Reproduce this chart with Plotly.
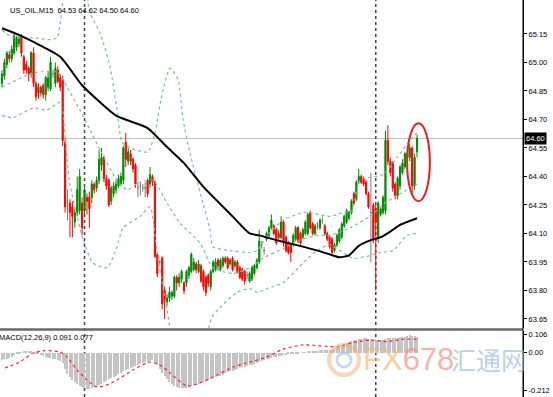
import plotly.graph_objects as go

# ---------------- data ----------------
opens = [64.89, 64.93, 64.99, 65.04, 65.02, 65.05, 65.08, 65.10, 65.14, 65.03,
         64.99, 64.97, 64.94, 65.05, 64.89, 64.87, 64.84, 64.88, 64.83, 64.87,
         64.86, 64.94, 64.89, 64.96, 64.92, 64.91, 64.58, 64.26, 64.26, 64.24,
         64.16, 64.21, 64.22, 64.26, 64.22, 64.29, 64.29, 64.29, 64.36, 64.34,
         64.38, 64.46, 64.50, 64.39, 64.38, 64.27, 64.31, 64.33, 64.35, 64.36,
         64.38, 64.58, 64.48, 64.52, 64.49, 64.46, 64.34, 64.35, 64.34, 64.34,
         64.38, 64.36, 64.40, 64.37, 63.99, 63.95, 63.97, 63.80, 63.74, 63.76,
         63.77, 63.77, 63.87, 63.84, 63.86, 63.84, 63.84, 63.88, 63.90, 63.91,
         63.94, 63.90, 63.93, 63.90, 63.87, 63.88, 63.82, 63.90, 63.91, 63.96,
         63.91, 63.93, 63.97, 63.97, 63.94, 63.97, 63.93, 63.95, 63.92, 63.91,
         63.90, 63.88, 63.85, 63.86, 63.89, 63.92, 63.95, 64.04, 64.01, 64.07,
         64.09, 64.13, 64.14, 64.12, 64.10, 64.08, 64.16, 64.08, 64.05, 64.04,
         64.04, 64.07, 64.13, 64.10, 64.08, 64.10, 64.10, 64.21, 64.15, 64.10,
         64.14, 64.13, 64.17, 64.14, 64.10, 64.08, 64.07, 64.01, 64.04, 64.06,
         64.08, 64.14, 64.16, 64.18, 64.21, 64.31, 64.28, 64.37, 64.40, 64.39,
         64.37, 64.31, 64.21, 64.25, 64.23, 64.08, 64.20, 64.21, 64.22, 64.59,
         64.48, 64.47, 64.36, 64.30, 64.35, 64.42, 64.45, 64.50, 64.50, 64.55,
         64.35, 64.53]
highs = [64.96, 65.02, 65.06, 65.06, 65.09, 65.16, 65.14, 65.15, 65.15, 65.04,
         65.01, 64.98, 65.06, 65.08, 64.90, 64.89, 64.88, 64.89, 64.93, 64.95,
         65.03, 64.96, 65.00, 64.98, 64.94, 64.93, 64.60, 64.33, 64.28, 64.27,
         64.23, 64.40, 64.44, 64.29, 64.36, 64.31, 64.32, 64.38, 64.37, 64.40,
         64.54, 64.55, 64.51, 64.41, 64.39, 64.35, 64.37, 64.38, 64.41, 64.42,
         64.56, 64.63, 64.55, 64.54, 64.50, 64.47, 64.37, 64.37, 64.36, 64.37,
         64.39, 64.45, 64.41, 64.38, 64.00, 63.96, 63.98, 63.82, 63.78, 63.82,
         63.80, 63.88, 63.88, 63.89, 63.91, 63.85, 63.91, 63.93, 64.00, 63.97,
         63.95, 63.96, 63.94, 63.91, 63.88, 63.89, 63.91, 63.96, 63.97, 63.97,
         63.97, 63.98, 63.98, 63.98, 63.97, 63.98, 63.96, 63.96, 63.93, 63.92,
         63.91, 63.90, 63.90, 63.93, 63.94, 63.97, 64.12, 64.06, 64.03, 64.11,
         64.14, 64.20, 64.15, 64.13, 64.12, 64.19, 64.17, 64.09, 64.06, 64.05,
         64.10, 64.14, 64.14, 64.11, 64.13, 64.17, 64.21, 64.22, 64.16, 64.15,
         64.16, 64.18, 64.19, 64.15, 64.11, 64.09, 64.08, 64.05, 64.10, 64.13,
         64.16, 64.20, 64.23, 64.22, 64.28, 64.32, 64.38, 64.44, 64.41, 64.40,
         64.38, 64.32, 64.42, 64.26, 64.25, 64.27, 64.24, 64.30, 64.64, 64.67,
         64.50, 64.48, 64.37, 64.40, 64.46, 64.49, 64.53, 64.55, 64.57, 64.56,
         64.52, 64.62]
lows = [64.87, 64.91, 64.97, 65.00, 65.00, 65.04, 65.06, 65.08, 65.03, 64.94,
        64.94, 64.90, 64.92, 64.87, 64.80, 64.81, 64.82, 64.81, 64.80, 64.85,
        64.85, 64.92, 64.87, 64.89, 64.85, 64.56, 64.21, 64.17, 64.08, 64.08,
        64.13, 64.19, 64.20, 64.09, 64.20, 64.20, 64.13, 64.26, 64.31, 64.32,
        64.36, 64.43, 64.37, 64.33, 64.24, 64.25, 64.29, 64.31, 64.34, 64.35,
        64.36, 64.45, 64.46, 64.46, 64.42, 64.34, 64.29, 64.30, 64.32, 64.29,
        64.29, 64.34, 64.35, 63.97, 63.87, 63.94, 63.70, 63.65, 63.72, 63.74,
        63.75, 63.76, 63.80, 63.82, 63.84, 63.78, 63.82, 63.86, 63.89, 63.90,
        63.89, 63.89, 63.84, 63.80, 63.77, 63.82, 63.80, 63.89, 63.90, 63.91,
        63.90, 63.92, 63.94, 63.91, 63.93, 63.90, 63.92, 63.89, 63.86, 63.85,
        63.83, 63.86, 63.84, 63.85, 63.88, 63.91, 63.94, 64.02, 63.99, 64.06,
        64.08, 64.12, 64.09, 64.04, 64.07, 64.07, 64.03, 64.00, 63.99, 63.95,
        64.03, 64.06, 64.05, 64.04, 64.07, 64.09, 64.09, 64.12, 64.09, 64.09,
        64.12, 64.12, 64.15, 64.09, 64.06, 64.02, 63.99, 64.00, 64.03, 64.05,
        64.07, 64.13, 64.15, 64.17, 64.20, 64.25, 64.27, 64.36, 64.36, 64.35,
        64.30, 64.23, 63.95, 64.05, 63.80, 64.05, 64.19, 64.20, 64.20, 64.46,
        64.40, 64.32, 64.28, 64.28, 64.33, 64.41, 64.44, 64.49, 64.48, 64.30,
        64.33, 64.50]
closes = [64.94, 65.00, 65.05, 65.02, 65.07, 65.14, 65.13, 65.13, 65.05, 64.96,
          64.96, 64.94, 65.05, 64.89, 64.82, 64.84, 64.87, 64.83, 64.92, 64.92,
          65.00, 64.94, 64.97, 64.90, 64.87, 64.59, 64.24, 64.26, 64.21, 64.19,
          64.21, 64.33, 64.40, 64.13, 64.33, 64.27, 64.23, 64.36, 64.33, 64.38,
          64.49, 64.50, 64.39, 64.35, 64.25, 64.34, 64.35, 64.36, 64.39, 64.40,
          64.55, 64.49, 64.53, 64.48, 64.44, 64.36, 64.34, 64.35, 64.34, 64.34,
          64.31, 64.41, 64.37, 63.98, 63.89, 63.95, 63.73, 63.74, 63.76, 63.79,
          63.79, 63.87, 63.84, 63.87, 63.90, 63.80, 63.90, 63.92, 63.99, 63.95,
          63.91, 63.94, 63.85, 63.82, 63.79, 63.84, 63.90, 63.95, 63.95, 63.93,
          63.96, 63.97, 63.95, 63.92, 63.96, 63.91, 63.95, 63.90, 63.87, 63.86,
          63.85, 63.88, 63.89, 63.92, 63.93, 63.96, 64.06, 64.04, 64.01, 64.10,
          64.13, 64.17, 64.10, 64.05, 64.08, 64.16, 64.05, 64.01, 64.00, 64.00,
          64.09, 64.13, 64.06, 64.05, 64.12, 64.16, 64.20, 64.13, 64.10, 64.14,
          64.14, 64.17, 64.17, 64.10, 64.07, 64.03, 64.00, 64.04, 64.09, 64.12,
          64.15, 64.19, 64.22, 64.21, 64.27, 64.26, 64.37, 64.40, 64.37, 64.36,
          64.31, 64.24, 64.21, 64.07, 64.16, 64.26, 64.23, 64.29, 64.59, 64.48,
          64.42, 64.34, 64.30, 64.39, 64.45, 64.47, 64.52, 64.52, 64.55, 64.35,
          64.50, 64.60]

# moving average (black line), read at selected bars
ma_bar = [0, 7, 24, 33, 47, 60, 68, 75, 83, 95, 102, 106, 113, 121, 130, 135,
          139, 143, 147, 152, 156, 160, 164, 171]
ma_val = [65.18, 65.145, 65.03, 64.88, 64.72, 64.655, 64.555, 64.47, 64.345,
          64.19, 64.10, 64.09, 64.065, 64.04, 64.01, 63.99, 63.975, 63.985,
          64.035, 64.065, 64.08, 64.11, 64.145, 64.18]

# Bollinger bands (green dotted), read at selected bars
upper_bar = [0, 4.5, 12.8, 19.8, 22.7, 23.9, 25.1, 26.4, 30, 34.2, 36.3, 40.4,
             44.5, 47.4, 49.4, 51.5, 54.8, 60.2, 63, 65.9, 69.2, 72.5, 74.6,
             77.5, 82.8, 85.7, 86.9, 93.9, 102.2, 105.1, 109.2, 115.8, 124,
             126.9, 135.1, 140.5, 144.2, 147.5, 157, 162.8, 168.1, 171]
upper_val = [65.17, 65.13, 65.13, 65.12, 65.13, 65.20, 65.33, 65.54, 65.64,
             65.43, 65.26, 65.155, 64.98, 64.75, 64.58, 64.56, 64.54, 64.53,
             64.63, 64.83, 64.97, 64.91, 64.70, 64.52, 64.26, 64.12, 64.03,
             64.01, 64.00, 64.01, 64.09, 64.17, 64.21, 64.21, 64.19, 64.21,
             64.22, 64.38, 64.41, 64.50, 64.59, 64.63]
mid_bar = [0, 12.8, 22.7, 26.8, 32.1, 36.3, 40.4, 47.4, 51.5, 56.9, 62.2, 68,
           73.3, 81.6, 86.9, 95.2, 102.2, 107.5, 115.8, 121.5, 129.8, 135.1,
           143.4, 151.6, 157.8, 162.8, 171]
mid_val = [64.87, 64.945, 64.95, 64.87, 64.75, 64.645, 64.54, 64.38, 64.33,
           64.37, 64.38, 64.26, 64.155, 64.05, 63.92, 63.89, 63.92, 63.97,
           64.02, 64.06, 64.09, 64.09, 64.13, 64.19, 64.26, 64.30, 64.36]
lower_bar = [0, 4.5, 12.8, 18.5, 23.9, 25.1, 26.4, 28, 33.4, 37.5, 43.3, 47.4,
             49.9, 56.9, 61, 63.9, 66.3, 68, 70, 77.5, 83.6, 86.5, 89.8, 96.8,
             102.2, 105.1, 109.2, 115.8, 124, 129.8, 135.1, 140.5, 144.6,
             150.4, 155.8, 161.1, 166.9, 171]
lower_val = [64.72, 64.71, 64.76, 64.75, 64.79, 64.74, 64.54, 64.36, 64.07,
             63.945, 63.92, 64.03, 64.13, 64.19, 64.24, 64.00, 63.82, 63.70,
             63.57, 63.49, 63.54, 63.66, 63.71, 63.79, 63.81, 63.79, 63.81,
             63.84, 63.945, 64.01, 64.04, 64.00, 63.97, 63.98, 64.00, 64.01,
             64.09, 64.10]

# MACD histogram (one value per bar) and signal line
macd_hist = [-0.040, -0.038, -0.033, -0.028, -0.022, -0.015, -0.008, -0.003, 0.003, 0.008,
             0.010, 0.008, 0.006, 0.002, -0.005, -0.010, -0.015, -0.020, -0.024, -0.028,
             -0.030, -0.033, -0.036, -0.040, -0.045, -0.060, -0.095, -0.120, -0.140, -0.155,
             -0.168, -0.178, -0.188, -0.196, -0.203, -0.207, -0.205, -0.200, -0.195, -0.190,
             -0.183, -0.176, -0.168, -0.160, -0.152, -0.145, -0.138, -0.130, -0.122, -0.114,
             -0.106, -0.098, -0.092, -0.086, -0.080, -0.075, -0.070, -0.065, -0.060, -0.055,
             -0.052, -0.048, -0.044, -0.050, -0.070, -0.090, -0.115, -0.135, -0.152, -0.165,
             -0.178, -0.188, -0.195, -0.200, -0.203, -0.203, -0.200, -0.195, -0.190, -0.185,
             -0.180, -0.175, -0.170, -0.166, -0.160, -0.155, -0.150, -0.145, -0.140, -0.135,
             -0.130, -0.124, -0.118, -0.112, -0.106, -0.102, -0.097, -0.092, -0.088, -0.084,
             -0.080, -0.076, -0.072, -0.068, -0.063, -0.058, -0.052, -0.046, -0.042, -0.038,
             -0.033, -0.029, -0.025, -0.022, -0.019, -0.016, -0.014, -0.012, -0.010, -0.008,
             -0.006, -0.004, -0.002, 0.000, 0.002, 0.004, 0.007, 0.009, 0.010, 0.011,
             0.012, 0.013, 0.014, 0.015, 0.016, 0.017, 0.018, 0.022, 0.028, 0.035,
             0.042, 0.050, 0.056, 0.062, 0.067, 0.071, 0.075, 0.078, 0.080, 0.082,
             0.082, 0.080, 0.077, 0.074, 0.072, 0.072, 0.073, 0.074, 0.080, 0.085,
             0.086, 0.085, 0.084, 0.085, 0.087, 0.089, 0.092, 0.095, 0.098, 0.096,
             0.095, 0.091]
signal_bar = [1.2, 7.4, 12.8, 17.7, 23.9, 26.8, 30.9, 35, 39.1, 43.3, 47.4, 54,
              61, 65.1, 69.2, 76.2, 81.6, 88.6, 95.2, 102.2, 109.2, 115.8, 124,
              138, 144.6, 151.6, 158.6, 165.2, 171]
signal_val = [-0.087, -0.053, -0.002, 0.012, 0.004, -0.024, -0.098, -0.155,
              -0.195, -0.183, -0.155, -0.098, -0.053, -0.070, -0.115, -0.189,
              -0.172, -0.127, -0.081, -0.053, -0.024, 0.020, 0.044, 0.034,
              0.057, 0.072, 0.063, 0.076, 0.077]

price_ticks = [63.65, 63.80, 63.95, 64.10, 64.25, 64.40, 64.55, 64.70, 64.85, 65.00, 65.15]
macd_ticks = [0.106, 0.0, -0.212]
macd_ticktext = ["0.106", "0.00", "-0.212"]
separator_bars = [34, 154]
# hand-drawn ellipse around the last bars: bar span and price span
ellipse_bars = [166.9, 176.3]
ellipse_prices = [64.27, 64.68]
title_text = "US_OIL,M15  64.53 64.62 64.50 64.60"
macd_label = "MACD(12,26,9) 0.091 0.077"

# ---------------- figure ----------------
W, H = 553, 397
bars = list(range(len(closes)))
GREEN, RED, GRAY = "#008a00", "#ff0000", "#7a7a7a"
BAND = "rgb(110,200,140)"
FONT = "Liberation Sans"

def subset(cond):
    idx = [i for i in bars if cond(i)]
    return dict(x=idx, open=[opens[i] for i in idx], high=[highs[i] for i in idx],
                low=[lows[i] for i in idx], close=[closes[i] for i in idx])

fig = go.Figure()
for cond, col in [(lambda i: closes[i] > opens[i], GREEN),
                  (lambda i: closes[i] < opens[i], RED),
                  (lambda i: closes[i] == opens[i], GRAY)]:
    d = subset(cond)
    fig.add_trace(go.Candlestick(
        **d, xaxis="x", yaxis="y", whiskerwidth=0,
        increasing=dict(line=dict(color=col, width=1), fillcolor=col),
        decreasing=dict(line=dict(color=col, width=1), fillcolor=col),
        showlegend=False, hoverinfo="skip"))

for bx, by in [(upper_bar, upper_val), (mid_bar, mid_val), (lower_bar, lower_val)]:
    fig.add_trace(go.Scatter(x=bx, y=by, mode="lines", xaxis="x", yaxis="y",
                             line=dict(color=BAND, width=1.2, dash="dot", shape="spline", smoothing=0.6),
                             showlegend=False, hoverinfo="skip"))

fig.add_trace(go.Scatter(x=ma_bar, y=ma_val, mode="lines", xaxis="x", yaxis="y",
                         line=dict(color="black", width=2, shape="spline", smoothing=0.5),
                         showlegend=False, hoverinfo="skip"))

fig.add_trace(go.Bar(x=bars, y=macd_hist, xaxis="x2", yaxis="y2", width=0.45,
                     marker=dict(color="#c4c4c4", line=dict(width=0)),
                     showlegend=False, hoverinfo="skip"))
fig.add_trace(go.Scatter(x=signal_bar, y=signal_val, mode="lines", xaxis="x2", yaxis="y2",
                         line=dict(color="#ff2020", width=1.2, dash="dot", shape="spline", smoothing=0.6),
                         showlegend=False, hoverinfo="skip"))

x_right = 523 / W
xr = [(0 - 2) / 2.427, (523 - 2) / 2.427]
main_dom = [1 - 328 / H, 1]
macd_dom = [0, 1 - 331 / H]

axis_common = dict(side="right", ticks="outside", ticklen=3, tickcolor="black",
                   showline=True, linecolor="black", linewidth=1, showgrid=False,
                   zeroline=False, tickfont=dict(family=FONT, size=7.5, color="black"),
                   fixedrange=True)

fig.update_layout(
    width=W, height=H, margin=dict(l=0, r=0, t=0, b=0),
    paper_bgcolor="white", plot_bgcolor="white", showlegend=False,
    bargap=0,
    xaxis=dict(domain=[0, x_right], range=xr, anchor="y", visible=False,
               rangeslider=dict(visible=False), fixedrange=True),
    xaxis2=dict(domain=[0, x_right], range=xr, anchor="y2", matches="x", visible=False,
                rangeslider=dict(visible=False), fixedrange=True),
    yaxis=dict(domain=main_dom, range=[63.6026, 65.3289], anchor="x",
               tickvals=price_ticks, ticktext=[f"{v:.2f}" for v in price_ticks], **axis_common),
    yaxis2=dict(domain=macd_dom, range=[-0.2517, 0.1233], anchor="x2",
                tickvals=macd_ticks, ticktext=macd_ticktext, **axis_common),
)

shapes = []
# bid line at last close
shapes.append(dict(type="line", xref="paper", x0=0, x1=x_right, yref="y",
                   y0=closes[-1], y1=closes[-1], line=dict(color="#c0c0c0", width=1), layer="below"))
# period separators
for b in separator_bars:
    shapes.append(dict(type="line", xref="x", x0=b, x1=b, yref="paper", y0=0, y1=1,
                       line=dict(color="#444444", width=1.5, dash="dot"), layer="below"))
# panel separator
shapes.append(dict(type="line", xref="paper", x0=0, x1=x_right, yref="paper",
                   y0=1 - 329.5 / H, y1=1 - 329.5 / H, line=dict(color="#6a6a6a", width=2.5)))
# continuous price-scale line
shapes.append(dict(type="line", xref="paper", x0=x_right, x1=x_right, yref="paper",
                   y0=0, y1=1, line=dict(color="black", width=1)))
# red hand-drawn ellipse
shapes.append(dict(type="circle", xref="x", yref="y",
                   x0=ellipse_bars[0], x1=ellipse_bars[1],
                   y0=ellipse_prices[0], y1=ellipse_prices[1],
                   line=dict(color="#ee1c1c", width=2)))
# watermark logo
shapes.append(dict(type="circle", xref="paper", yref="paper",
                   x0=329 / W, x1=359 / W, y0=1 - 375 / H, y1=1 - 345 / H,
                   line=dict(color="rgba(245,170,110,0.5)", width=4)))
shapes.append(dict(type="circle", xref="paper", yref="paper",
                   x0=337 / W, x1=351 / W, y0=1 - 367 / H, y1=1 - 353 / H,
                   line=dict(color="rgba(150,185,225,0.55)", width=3)))
fig.update_layout(shapes=shapes)

ann = []
ann.append(dict(text=title_text, xref="paper", yref="paper", x=8 / W, y=1 - 11 / H,
                xanchor="left", yanchor="middle", showarrow=False,
                font=dict(family=FONT, size=7.5, color="black")))
ann.append(dict(text=macd_label, xref="paper", yref="paper", x=-3 / W, y=1 - 337.5 / H,
                xanchor="left", yanchor="middle", showarrow=False,
                font=dict(family=FONT, size=7.5, color="black")))
ann.append(dict(text=f"{closes[-1]:.2f}", xref="paper", yref="y", x=524 / W, y=closes[-1],
                xanchor="left", yanchor="middle", showarrow=False, bgcolor="black",
                borderpad=1, font=dict(family=FONT, size=7.5, color="white")))
ann.append(dict(text="<span style='color:rgba(247,185,110,0.7)'>FX</span>"
                     "<span style='color:rgba(243,145,125,0.7)'>678</span>",
                xref="paper", yref="paper", x=408 / W, y=1 - 359 / H,
                xanchor="center", yanchor="middle", showarrow=False,
                font=dict(family=FONT, size=31)))
ann.append(dict(text="汇通网", xref="paper", yref="paper", x=488 / W, y=1 - 359 / H,
                xanchor="center", yanchor="middle", showarrow=False,
                font=dict(family="Noto Sans CJK SC", size=25, color="rgba(145,180,222,0.65)")))
fig.update_layout(annotations=ann)

fig.write_html("out.html")
